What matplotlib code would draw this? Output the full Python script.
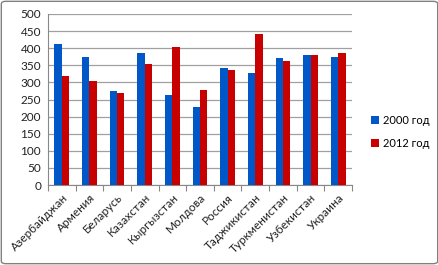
import matplotlib
matplotlib.use("Agg")
import matplotlib.pyplot as plt
import numpy as np
from matplotlib.patches import FancyBboxPatch

countries = ["Азербайджан", "Армения", "Беларусь", "Казахстан", "Кыргызстан",
             "Молдова", "Россия", "Таджикистан", "Туркменистан", "Узбекистан", "Украина"]
v2000 = [413, 373, 276, 386, 262, 229, 342, 327, 371, 380, 374]
v2012 = [319, 305, 269, 353, 403, 279, 335, 441, 363, 380, 386]
series_labels = ["2000 год", "2012 год"]
yticks = [0, 50, 100, 150, 200, 250, 300, 350, 400, 450, 500]

plt.rcParams['font.family'] = ['Lato', 'DejaVu Sans']
W, H = 439, 265
fig = plt.figure(figsize=(W/100, H/100), dpi=100)
ax = fig.add_axes([48/W, 1-185/H, (352-48)/W, (185-14)/H])

x = np.arange(len(countries))
bw = 0.265
blue = "#0058C8"
red = "#C80000"
b1 = ax.bar(x - bw/2, v2000, bw, color=blue, label=series_labels[0], zorder=3)
b2 = ax.bar(x + bw/2, v2012, bw, color=red, label=series_labels[1], zorder=3)

ax.set_xlim(-0.5, len(countries) - 0.5)
ax.set_ylim(0, 500)
ax.set_yticks(yticks)
ax.set_yticklabels([str(t) for t in yticks], fontsize=8.5, color="#222222")
ax.yaxis.grid(True, color="#A0A0A0", linewidth=0.9, zorder=0)
ax.tick_params(axis='y', length=0, pad=5)

ax.set_xticks(np.arange(-0.5, len(countries), 1.0), minor=False)
ax.set_xticklabels([])
ax.tick_params(axis='x', length=4, color="#888888", width=0.8)
ax.set_xticks(x, minor=True)
ax.set_xticklabels(countries, minor=True, rotation=45, ha='right', va='top',
                   rotation_mode='anchor', fontsize=8.5, color="#222222")
ax.tick_params(axis='x', which='minor', length=0, pad=5)

for s in ['top', 'right']:
    ax.spines[s].set_visible(False)
for s in ['left', 'bottom']:
    ax.spines[s].set_color("#888888")
    ax.spines[s].set_linewidth(0.8)

leg = fig.legend(handles=[b1, b2], labels=series_labels, loc='center left',
                 bbox_to_anchor=(371/W, 1-132/H), frameon=False, fontsize=8,
                 handlelength=0.75, handleheight=0.75, labelspacing=1.1,
                 handletextpad=0.3, borderpad=0, borderaxespad=0)

border = FancyBboxPatch((0.003, 0.005), 0.994, 0.99, boxstyle="round,pad=0,rounding_size=0.01",
                        transform=fig.transFigure, fill=False, edgecolor="#808080",
                        linewidth=1.0)
fig.patches.append(border)

fig.savefig("out.png", dpi=100)
